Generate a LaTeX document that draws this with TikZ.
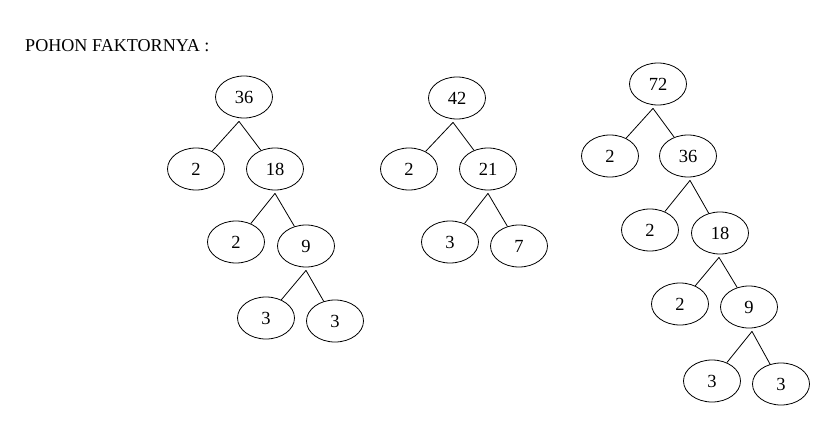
\documentclass[tikz,border=0pt]{standalone}
\usepackage{fontspec}
\setmainfont{Liberation Serif}
\usetikzlibrary{shapes.geometric}
\tikzstyle{fac} = [draw, ellipse, inner sep=0mm, minimum width=57pt, minimum height=42pt, line width=.8pt, font=\fontsize{18.5}{18.5}\selectfont]
\tikzstyle{l} = [line width=.8pt]
\tikzstyle{title} = [draw=none, inner sep=0mm, anchor=base west, font=\fontsize{18.1}{18}\selectfont]

\begin{document}
\begin{tikzpicture}[x=1pt, y=-1pt]
                \useasboundingbox (0,0) rectangle (838,428);
                \node[title] (judul) at (25,51.5) {POHON FAKTORNYA :};

                % pohon 36
                \foreach \n/\t/\x/\y in {a/36/244/97, a1/2/196/169, a2/18/275/169, a21/2/236/242, a22/9/306/246, a221/3/266/318, a222/3/335/321}
                \node[fac] (\n) at (\x,\y) {\t};

                % pohon 42
                \foreach \n/\t/\x/\y in {b/42/457/98, b1/2/409/169, b2/21/488/169, b21/3/450/242, b22/7/519/246}
                \node[fac] (\n) at (\x,\y) {\t};

                % pohon 72
                \foreach \n/\t/\x/\y in {c/72/658/84, c1/2/610/156, c2/36/688/156, c21/2/650/230, c22/18/720/233, c221/2/680/304, c222/9/749/307, c2221/3/712/381, c2222/3/781/384}
                \node[fac] (\n) at (\x,\y) {\t};

                % titik cabang
                \foreach \p/\dx in {a/-5, a2/0, a22/0, b/-4, b2/0, c/-5, c2/2, c22/-1, c222/3}
                \coordinate (\p s) at ([xshift=\dx pt, yshift=-3pt]\p.south);

                \foreach \f/\t in {a/a1, a/a2, a2/a21, a2/a22, a22/a221, a22/a222, b/b1, b/b2, b2/b21, b2/b22, c/c1, c/c2, c2/c21, c2/c22, c22/c221, c22/c222, c222/c2221, c222/c2222}
                \draw[l] (\f s) -- (\t);
\end{tikzpicture}
\end{document}
